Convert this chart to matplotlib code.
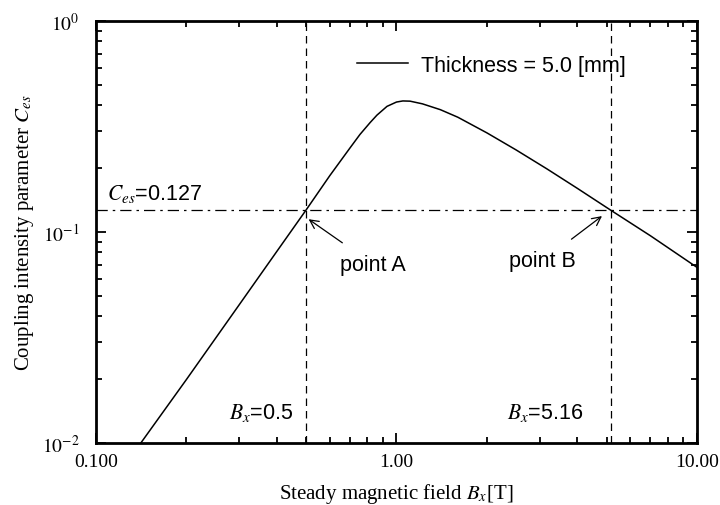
import numpy as np
import matplotlib
matplotlib.use('Agg')
import matplotlib.pyplot as plt

plt.rcParams['font.family'] = ['Liberation Serif', 'DejaVu Serif']
plt.rcParams['mathtext.fontset'] = 'stix'

# values (log-log)
field = [0.141, 0.2, 0.3, 0.4, 0.5, 0.6, 0.7, 0.756, 0.817, 0.861, 0.93, 1.0,
         1.05, 1.11, 1.22, 1.4, 1.6, 2.0, 2.5, 3.17, 4.0, 5.16, 7.0, 10.0]
coupling = [0.010, 0.020, 0.0453, 0.081, 0.127, 0.185, 0.25, 0.29, 0.33, 0.358,
            0.394, 0.413, 0.418, 0.417, 0.405, 0.38, 0.35, 0.295, 0.245, 0.199,
            0.161, 0.127, 0.096, 0.068]
c_level = 0.127
b_points = [0.5, 5.16]
xtick_vals = [0.1, 1.0, 10.0]
xtick_text = ['0.100', '1.00', '10.00']
ytick_vals = [0.01, 0.1, 1.0]
ytick_text = ['$10^{-2}$', '$10^{-1}$', '$10^{0}$']

sans = 'Liberation Sans'
fs_sans = 15.5
fs_tick = 14
fs_label = 15

fig = plt.figure(figsize=(7.2, 5.06), dpi=100)
ax = fig.add_axes([0.1333, 0.1225, 0.8347, 0.834])

ax.plot(field, coupling, color='black', lw=1.1, label='Thickness = 5.0 [mm]')
ax.axhline(c_level, color='black', lw=0.9, linestyle=(0, (9, 4, 2, 4)))
for b in b_points:
    ax.axvline(b, color='black', lw=0.9, linestyle=(0, (6, 4)))

ax.set_xscale('log')
ax.set_yscale('log')
ax.set_xlim(0.1, 10)
ax.set_ylim(0.01, 1)

ax.set_xticks(xtick_vals)
ax.set_xticklabels(xtick_text)
ax.set_yticks(ytick_vals)
ax.set_yticklabels(ytick_text)
ax.tick_params(which='both', direction='in', top=True, right=True, width=1.3)
ax.tick_params(which='major', length=7)
ax.tick_params(which='minor', length=4)
ax.tick_params(axis='x', which='major', pad=7, labelsize=fs_tick)
ax.tick_params(axis='y', which='major', pad=12, labelsize=fs_tick)
for s in ax.spines.values():
    s.set_linewidth(2)

ax.set_xlabel('Steady magnetic field $B_x$[T]', fontsize=fs_label, labelpad=8)
ax.set_ylabel('Coupling intensity parameter $C_{es}$', fontsize=fs_label, labelpad=4)

# annotations
ax.text(0.109, 0.143, '$C_{es}$=0.127', family=sans, fontsize=fs_sans)
ax.text(0.453, 0.014, '$B_x$=0.5', family=sans, fontsize=fs_sans,
        ha='right', va='center')
ax.text(4.18, 0.014, '$B_x$=5.16', family=sans, fontsize=fs_sans,
        ha='right', va='center')
ax.annotate('point A', xy=(0.51, 0.115), xytext=(0.648, 0.0705),
            family=sans, fontsize=fs_sans, va='center',
            arrowprops=dict(arrowstyle='->', color='black', lw=0.9,
                            shrinkA=10, shrinkB=0))
ax.annotate('point B', xy=(4.83, 0.119), xytext=(3.07, 0.073),
            family=sans, fontsize=fs_sans, va='center', ha='center',
            arrowprops=dict(arrowstyle='->', color='black', lw=0.9,
                            shrinkA=10, shrinkB=0))

ax.legend(loc='center left', bbox_to_anchor=(0.434, 0.895), frameon=False,
          prop={'family': sans, 'size': fs_sans}, handlelength=2.4,
          handletextpad=0.6, borderpad=0, borderaxespad=0)

fig.savefig('out.png', dpi=100)
